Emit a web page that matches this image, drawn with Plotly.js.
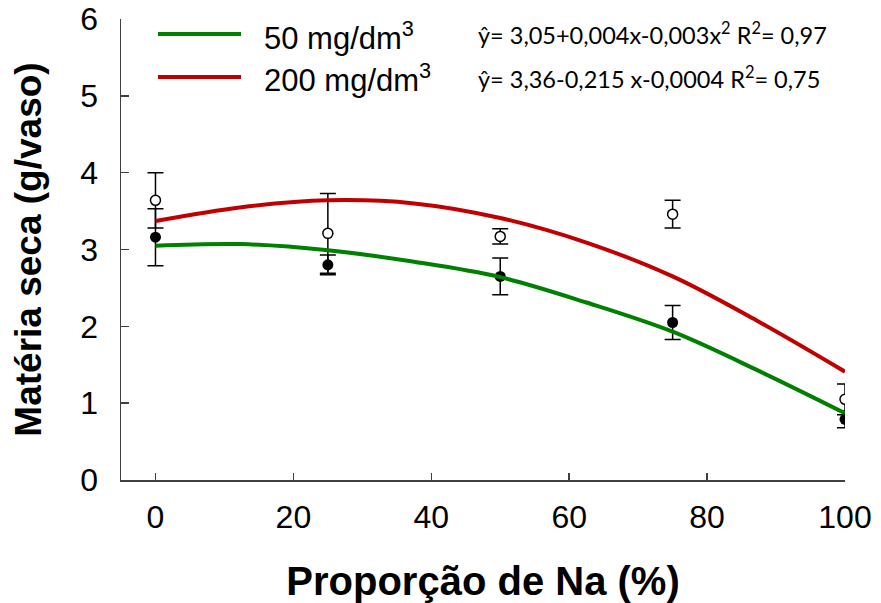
<!DOCTYPE html>
<html>
<head>
<meta charset="utf-8">
<script src="https://cdn.plot.ly/plotly-3.0.1.min.js"></script>
<style>html,body{margin:0;padding:0;background:#fff;}#chart{width:881px;height:603px;}</style>
</head>
<body>
<div id="chart"></div>
<script>
// Observed means (Proporção de Na, %) and standard errors
const xPoints = [0, 25, 50, 75, 100];
const y50 = [3.16, 2.80, 2.65, 2.05, 0.79];
const err50 = [0.37, 0.13, 0.24, 0.22, 0.11];
const y200 = [3.64, 3.21, 3.17, 3.46, 1.05];
const err200 = [0.36, 0.52, 0.10, 0.18, 0.20];

// Fitted curves
const xFit = [0, 12.5, 25, 37.5, 50, 62.5, 75, 87.5, 100];
const fit50 = [3.05, 3.07, 2.99, 2.84, 2.64, 2.31, 1.93, 1.42, 0.87];
const fit200 = [3.37, 3.55, 3.64, 3.60, 3.41, 3.09, 2.65, 2.06, 1.41];

const seriesNames = ['50 mg/dm<sup>3</sup>', '200 mg/dm<sup>3</sup>'];
const equations = ['ŷ= 3,05+0,004x-0,003x<sup>2</sup> R<sup>2</sup>= 0,97', 'ŷ= 3,36-0,215 x-0,0004 R<sup>2</sup>= 0,75'];
const xTicks = [0, 20, 40, 60, 80, 100];
const yTicks = [0, 1, 2, 3, 4, 5, 6];

const GREEN = '#008000', RED = '#C00000', AX = '#404040';

const traces = [
  {x: xPoints, y: y50, type: 'scatter', mode: 'markers', name: '50 mg/dm³ (obs.)', showlegend: false,
   marker: {symbol: 'circle', size: 11, color: '#000'},
   error_y: {type: 'data', array: err50, visible: true, color: '#000', thickness: 1.5, width: 8}},
  {x: xPoints, y: y200, type: 'scatter', mode: 'markers', name: '200 mg/dm³ (obs.)', showlegend: false,
   marker: {symbol: 'circle', size: 10, color: '#fff', line: {color: '#000', width: 1.5}},
   error_y: {type: 'data', array: err200, visible: true, color: '#000', thickness: 1.5, width: 8}},
  {x: xFit, y: fit50, type: 'scatter', mode: 'lines', name: seriesNames[0], showlegend: false,
   line: {color: GREEN, width: 4, shape: 'spline', smoothing: 1}},
  {x: xFit, y: fit200, type: 'scatter', mode: 'lines', name: seriesNames[1], showlegend: false,
   line: {color: RED, width: 4, shape: 'spline', smoothing: 1}}
];

// pixel helpers for legend placement (plot area: x 121..845, y 19..480)
const L = 121, R = 845, T = 19, B = 480;
const px = v => (v - L) / (R - L);
const py = v => (B - v) / (B - T);

const FONT = 'Liberation Sans, Arial, sans-serif';

const layout = {
  width: 881, height: 603,
  margin: {l: L, r: 881 - R, t: T, b: 603 - B},
  paper_bgcolor: '#fff', plot_bgcolor: '#fff',
  showlegend: false,
  font: {family: FONT, color: '#000'},
  xaxis: {
    range: [-5, 100], tickvals: xTicks, ticktext: xTicks.map(String),
    ticks: 'inside', ticklen: 7, tickwidth: 1.5, tickcolor: AX,
    showline: true, linecolor: AX, linewidth: 1.5, mirror: false,
    showgrid: false, zeroline: false,
    tickfont: {size: 32, family: FONT, color: '#000'},
    ticklabelstandoff: 8,
    title: {text: '<b>Proporção de Na (%)</b>', font: {size: 40, family: FONT, color: '#000'}, standoff: 40}
  },
  yaxis: {
    range: [0, 6], tickvals: yTicks,
    ticks: 'inside', ticklen: 8, tickwidth: 1.5, tickcolor: AX,
    showline: true, linecolor: AX, linewidth: 1.5, mirror: false,
    showgrid: false, zeroline: false,
    tickfont: {size: 32, family: FONT, color: '#000'},
    ticklabelstandoff: 15,
    title: {text: '<b>Matéria seca (g/vaso)</b>', font: {size: 37, family: FONT, color: '#000'}, standoff: 27}
  },
  shapes: [
    {type: 'line', xref: 'paper', yref: 'paper', x0: px(158), x1: px(241), y0: py(34), y1: py(34), line: {color: GREEN, width: 4}},
    {type: 'line', xref: 'paper', yref: 'paper', x0: px(158), x1: px(241), y0: py(77), y1: py(77), line: {color: RED, width: 4}}
  ],
  annotations: [
    {xref: 'paper', yref: 'paper', x: px(262), y: py(36), xanchor: 'left', yanchor: 'middle', showarrow: false,
     text: seriesNames[0], font: {size: 31, family: FONT, color: '#000'}},
    {xref: 'paper', yref: 'paper', x: px(262), y: py(78), xanchor: 'left', yanchor: 'middle', showarrow: false,
     text: seriesNames[1], font: {size: 31, family: FONT, color: '#000'}},
    {xref: 'paper', yref: 'paper', x: px(476), y: py(34), xanchor: 'left', yanchor: 'middle', showarrow: false,
     text: equations[0], font: {size: 23.5, family: 'Lato, Carlito, sans-serif', color: '#000'}},
    {xref: 'paper', yref: 'paper', x: px(476), y: py(77), xanchor: 'left', yanchor: 'middle', showarrow: false,
     text: equations[1], font: {size: 23.5, family: 'Lato, Carlito, sans-serif', color: '#000'}}
  ]
};

Plotly.newPlot('chart', traces, layout, {staticPlot: true, displayModeBar: false});
</script>
</body>
</html>
